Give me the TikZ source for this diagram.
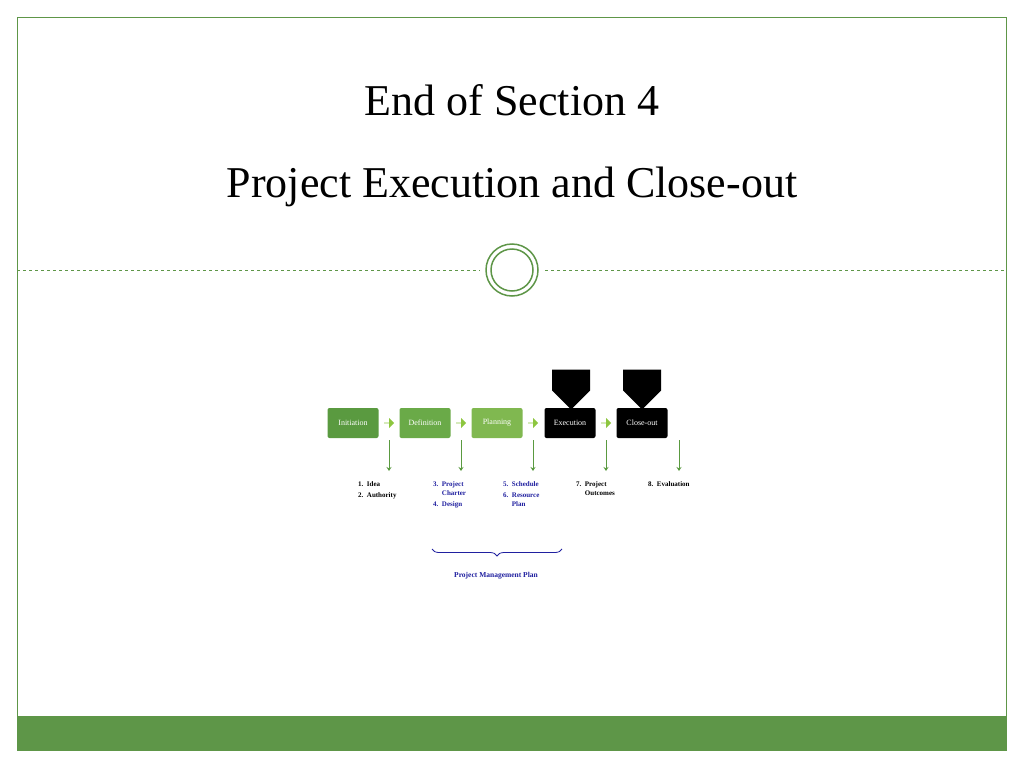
\documentclass[tikz,border=0pt]{standalone}
\usepackage{fontspec}
\setmainfont{Liberation Serif}
\usetikzlibrary{arrows.meta,decorations.pathreplacing,shapes.arrows}
\definecolor{gr}{HTML}{5E9648}
\definecolor{g1}{HTML}{5A9A40}
\definecolor{g2}{HTML}{6AAA48}
\definecolor{g3}{HTML}{80B850}
\definecolor{lg}{HTML}{8DC63F}
\definecolor{bl}{HTML}{2020A0}
\begin{document}
\begin{tikzpicture}[x=1pt,y=-1pt,
 stage/.style={rounded corners=2pt,minimum width=51pt,minimum height=30pt,inner sep=0pt,text=white,font=\fontsize{8}{9}\selectfont},
 down/.style={draw=g1,line width=1pt,-{Stealth[length=4pt,width=5pt]}},
 small/.style={single arrow,fill=lg,minimum height=10pt,minimum width=10pt,single arrow head extend=2pt,inner sep=0pt},
 big/.style={single arrow,fill=black,shape border rotate=270,minimum height=40pt,minimum width=38pt,single arrow head extend=0pt,inner sep=0pt,single arrow tip angle=90},
 lbl/.style={font=\bfseries\fontsize{7}{9}\selectfont,align=left,anchor=north west,inner sep=0pt}]
\useasboundingbox (0,0) rectangle (1024,768);
\fill[white] (0,0) rectangle (1024,768);
\draw[gr,line width=0.8pt] (17,17) rectangle (1006,750);
\fill[gr] (17,716) rectangle (1006,750);
\draw[gr,dashed,line width=0.6pt] (17,270) -- (480,270);
\draw[gr,dashed,line width=0.6pt] (545,270) -- (1006,270);
\node[circle,draw=gr,line width=1.5pt,minimum size=52pt] (c1) at (512,270) {};
\node[circle,draw=gr,line width=1.5pt,minimum size=42pt] (c2) at (512,270) {};
\node[font=\fontsize{44}{50}\selectfont] (t1) at (512,100) {End of Section 4};
\node[font=\fontsize{44}{50}\selectfont] (t2) at (512,187) {Project Execution and Close-out};
\node[stage,fill=g1] (s1) at (353,423) {Initiation};
\node[stage,fill=g2] (s2) at (425,423) {Definition};
\node[stage,fill=g3] (s3) at (497,423) {Planning};
\node[stage,fill=black] (s4) at (570,423) {Execution};
\node[stage,fill=black] (s5) at (642,423) {Close-out};
\node[small] (a1) at (389,423) {};
\node[small] (a2) at (461,423) {};
\node[small] (a3) at (533,423) {};
\node[small] (a4) at (606,423) {};
\node[big] (b1) at (571,380) {};
\node[big] (b2) at (642,380) {};
\coordinate (d1t) at (389,440); \coordinate (d1b) at (389,471);
\coordinate (d2t) at (461,440); \coordinate (d2b) at (461,471);
\coordinate (d3t) at (533,440); \coordinate (d3b) at (533,471);
\coordinate (d4t) at (606,440); \coordinate (d4b) at (606,471);
\coordinate (d5t) at (679,440); \coordinate (d5b) at (679,471);
\foreach \i in {1,...,5}{\draw[down] (d\i t) -- (d\i b);}
\node[lbl] (l1) at (358,481) {1.\ \ Idea\\[2pt]2.\ \ Authority};
\node[lbl,text=bl] (l2) at (433,481) {3.\ \ Project\\\phantom{3.\ \ }Charter\\[2pt]4.\ \ Design};
\node[lbl,text=bl] (l3) at (503,481) {5.\ \ Schedule\\[2pt]6.\ \ Resource\\\phantom{6.\ \ }Plan};
\node[lbl] (l4) at (576,481) {7.\ \ Project\\\phantom{7.\ \ }Outcomes};
\node[lbl] (l5) at (648,481) {8.\ \ Evaluation};
\coordinate (br1) at (432,549); \coordinate (br2) at (562,549);
\draw[bl,line width=0.8pt,decorate,decoration={brace,mirror,amplitude=7pt}] (br1) -- (br2);
\node[font=\bfseries\fontsize{7.5}{9}\selectfont,text=bl] (pmp) at (496,576) {Project Management Plan};
\end{tikzpicture}
\end{document}
